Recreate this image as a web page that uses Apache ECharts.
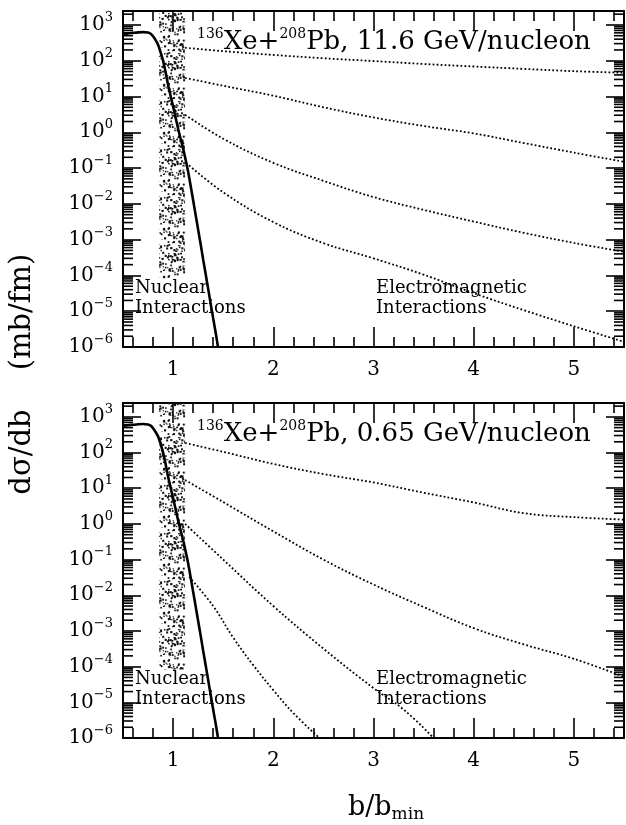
<!DOCTYPE html>
<html>
<head>
<meta charset="utf-8">
<script src="https://cdn.jsdelivr.net/npm/echarts@6/dist/echarts.min.js"></script>
<style>
  html, body { margin: 0; padding: 0; background: #fff; }
  #chart { width: 626px; height: 825px; }
</style>
</head>
<body>
<div id="chart"></div>
<script>
// Impact-parameter distributions dσ/db (mb/fm) versus b/b_min.

// Nuclear (grazing) interactions, same in both panels
const nuclear = [[0.50, 550], [0.55, 580], [0.60, 600], [0.65, 620], [0.70, 630], [0.75, 615],
  [0.78, 560], [0.80, 480], [0.83, 360], [0.85, 280], [0.875, 175], [0.90, 100], [0.925, 48],
  [0.95, 21], [0.975, 10.5], [1.00, 5.2], [1.025, 2.6], [1.05, 1.26], [1.075, 0.66], [1.10, 0.35],
  [1.125, 0.17], [1.15, 0.079], [1.175, 0.032], [1.20, 0.0126], [1.225, 4.9e-3], [1.25, 1.9e-3],
  [1.275, 7.4e-4], [1.30, 2.8e-4], [1.325, 1.1e-4], [1.35, 4.2e-5], [1.375, 1.6e-5],
  [1.40, 6.3e-6], [1.425, 2.5e-6], [1.448, 1e-6]];

// Electromagnetic interactions, 11.6 GeV/nucleon
const em116a = [[1.12, 230], [1.5, 185], [2.0, 145], [2.5, 117], [3.0, 98], [3.5, 81], [4.0, 69], [4.5, 59], [5.0, 51], [5.5, 46]];
const em116b = [[1.12, 33], [1.5, 20], [2.0, 10.5], [2.5, 5.0], [3.0, 2.6], [3.5, 1.5], [4.0, 0.93], [4.5, 0.5], [5.0, 0.27], [5.5, 0.15]];
const em116c = [[1.12, 3.1], [1.5, 0.66], [2.0, 0.14], [2.5, 0.044], [3.0, 0.0155], [3.5, 6.8e-3], [4.0, 3.2e-3], [4.5, 1.55e-3], [5.0, 8.1e-4], [5.5, 4.6e-4]];
const em116d = [[1.13, 0.14], [1.5, 0.021], [2.0, 3.1e-3], [2.5, 8e-4], [3.0, 3e-4], [3.5, 1.05e-4], [4.0, 3.2e-5], [4.5, 1.07e-5], [5.0, 3.8e-6], [5.5, 1.4e-6]];

// Electromagnetic interactions, 0.65 GeV/nucleon
const em065a = [[1.12, 186], [1.5, 105], [2.0, 48], [2.5, 25], [3.0, 14.5], [3.5, 7.5], [4.0, 4.0], [4.5, 2.0], [5.0, 1.55], [5.5, 1.32]];
const em065b = [[1.12, 17], [1.5, 4.1], [2.0, 0.62], [2.5, 0.1], [3.0, 0.020], [3.5, 4.7e-3], [4.0, 1.2e-3], [4.5, 4.2e-4], [5.0, 1.66e-4], [5.5, 5.2e-5]];
const em065c = [[1.12, 1.0], [1.5, 0.1], [2.0, 5e-3], [2.5, 3.2e-4], [3.0, 2.5e-5], [3.3, 6.3e-6], [3.6, 1e-6]];
const em065d = [[1.16, 0.033], [1.4, 5e-3], [1.6, 6.5e-4], [1.8, 1.1e-4], [2.0, 2.2e-5], [2.2, 5e-6], [2.46, 1e-6]];

// Shaded band of b/b_min near the touching-sphere radius
const bandX = [0.86, 1.12];
const bandLow = 8.3e-5;

// Axes
const xMin = 0.5, xMax = 5.5;
const yMin = 1e-6, yMax = 2450;
const xMajor = [1, 2, 3, 4, 5];
const xMinor = [0.6, 0.8, 1.2, 1.4, 1.6, 1.8, 2.2, 2.4, 2.6, 2.8, 3.2, 3.4, 3.6, 3.8, 4.2, 4.4, 4.6, 4.8, 5.2, 5.4];
const decades = [1e-6, 1e-5, 1e-4, 1e-3, 1e-2, 1e-1, 1, 10, 100, 1000];
const mantissas = [2, 3, 4, 5, 6, 7, 8, 9];
const yMinor = decades.flatMap(d => mantissas.map(k => k * d)).filter(v => v < yMax);

const panelEnergies = ['11.6', '0.65'];

const F = 'DejaVu Serif';
const grids = [
  { left: 123, top: 11, width: 501, height: 336 },
  { left: 123, top: 403, width: 501, height: 335 }
];

// stippled fill texture for the band
function stipplePattern() {
  const s = 48;
  const c = document.createElement('canvas');
  c.width = s; c.height = s;
  const g = c.getContext('2d');
  g.fillStyle = '#111';
  let h = 2463534242;
  const next = () => { h ^= h << 13; h >>>= 0; h ^= h >>> 17; h ^= h << 5; h >>>= 0; return h / 4294967296; };
  for (let i = 0; i < 230; i++) {
    const px = next() * s, py = next() * s;
    const d = 1.1 + next() * 1.1;
    g.fillRect(px, py, d, d);
  }
  return c;
}
const pattern = stipplePattern();

const xAxes = [], yAxes = [], series = [], graphics = [];

function supLabel(v) {
  const n = Math.log10(v);
  if (Math.abs(n - Math.round(n)) > 1e-6) return '';
  const e = Math.round(n);
  return '{b|10}{e|' + (e < 0 ? '\u2212' + (-e) : e) + '}';
}

grids.forEach((gr, g) => {
  const tickStyle = { color: '#000', width: 1.6 };
  const xCommon = { gridIndex: g, type: 'value', min: xMin, max: xMax, splitLine: { show: false } };
  xAxes.push(Object.assign({}, xCommon, {
    position: 'bottom',
    axisLine: { show: true, lineStyle: { color: '#000', width: 2 } },
    axisTick: { show: true, inside: true, length: 20, customValues: xMajor, lineStyle: tickStyle },
    axisLabel: { show: true, customValues: xMajor, color: '#000', fontFamily: F, fontSize: 20, margin: 13 }
  }));
  xAxes.push(Object.assign({}, xCommon, {
    position: 'bottom',
    axisLine: { show: false },
    axisTick: { show: true, inside: true, length: 10, customValues: xMinor, lineStyle: tickStyle },
    axisLabel: { show: false }
  }));
  xAxes.push(Object.assign({}, xCommon, {
    position: 'top',
    axisLine: { show: true, lineStyle: { color: '#000', width: 2 } },
    axisTick: { show: true, inside: true, length: 20, customValues: xMajor, lineStyle: tickStyle },
    axisLabel: { show: false }
  }));
  xAxes.push(Object.assign({}, xCommon, {
    position: 'top',
    axisLine: { show: false },
    axisTick: { show: true, inside: true, length: 10, customValues: xMinor, lineStyle: tickStyle },
    axisLabel: { show: false }
  }));

  const yCommon = { gridIndex: g, type: 'log', logBase: 10, min: yMin, max: yMax, splitNumber: 9, splitLine: { show: false } };
  yAxes.push(Object.assign({}, yCommon, {
    position: 'left',
    axisLine: { show: true, lineStyle: { color: '#000', width: 2 } },
    axisTick: { show: true, inside: true, length: 18, lineStyle: tickStyle },
    axisLabel: {
      show: true, margin: 10, formatter: supLabel,
      rich: {
        b: { fontFamily: F, fontSize: 20, lineHeight: 28, color: '#000' },
        e: { fontFamily: F, fontSize: 13, lineHeight: 8, verticalAlign: 'top', color: '#000' }
      }
    }
  }));
  yAxes.push(Object.assign({}, yCommon, {
    position: 'right',
    axisLine: { show: true, lineStyle: { color: '#000', width: 2 } },
    axisTick: { show: true, inside: true, length: 18, lineStyle: tickStyle },
    axisLabel: { show: false }
  }));

  const xi = 4 * g, yi = 2 * g;

  // shaded band
  series.push({
    type: 'custom', xAxisIndex: xi, yAxisIndex: yi, silent: true, z: 1,
    data: [[bandX[0], bandX[1], bandLow, yMax]],
    renderItem: (params, api) => {
      const p0 = api.coord([api.value(0), api.value(3)]);
      const p1 = api.coord([api.value(1), api.value(2)]);
      return {
        type: 'rect',
        shape: { x: p0[0], y: p0[1], width: p1[0] - p0[0], height: p1[1] - p0[1] },
        style: { fill: { image: pattern, repeat: 'repeat' } }
      };
    }
  });

  // minor log ticks on left and right frames
  series.push({
    type: 'custom', xAxisIndex: xi, yAxisIndex: yi, silent: true, z: 3,
    data: yMinor.map(v => [xMin, v]),
    renderItem: (params, api) => {
      const v = api.value(1);
      const l = api.coord([xMin, v]);
      const r = api.coord([xMax, v]);
      const st = { stroke: '#000', lineWidth: 1.6 };
      return {
        type: 'group', children: [
          { type: 'line', shape: { x1: l[0], y1: l[1], x2: l[0] + 10, y2: l[1] }, style: st },
          { type: 'line', shape: { x1: r[0] - 10, y1: r[1], x2: r[0], y2: r[1] }, style: st }
        ]
      };
    }
  });

  series.push({
    type: 'line', xAxisIndex: xi, yAxisIndex: yi, data: nuclear, symbol: 'none', z: 4,
    smooth: 0.2, lineStyle: { color: '#000', width: 2.6 }
  });
  const emSets = g === 0 ? [em116a, em116b, em116c, em116d] : [em065a, em065b, em065c, em065d];
  emSets.forEach(d => series.push({
    type: 'line', xAxisIndex: xi, yAxisIndex: yi, data: d, symbol: 'none', z: 4,
    smooth: 0.4,
    lineStyle: { color: '#000', width: 1.8, type: [1.8, 2.2] }
  }));

  // panel title
  graphics.push({
    type: 'text', x: 197, y: gr.top + 31,
    style: {
      text: '{s|136}{t|Xe+}{s|208}{t|Pb, ' + panelEnergies[g] + ' GeV/nucleon}',
      verticalAlign: 'middle',
      rich: {
        s: { fontFamily: F, fontSize: 14, lineHeight: 8, verticalAlign: 'top', fill: '#000' },
        t: { fontFamily: F, fontSize: 26, lineHeight: 30, fill: '#000' }
      }
    }
  });

  const by = gr.top + gr.height - 49;
  graphics.push({ type: 'text', x: 135, y: by, style: { text: 'Nuclear\nInteractions', fontFamily: F, fontSize: 18, lineHeight: 20, fill: '#000', verticalAlign: 'middle' } });
  graphics.push({ type: 'text', x: 376, y: by, style: { text: 'Electromagnetic\nInteractions', fontFamily: F, fontSize: 18, lineHeight: 20, fill: '#000', verticalAlign: 'middle' } });
});

// axis titles
graphics.push({ type: 'text', x: 22, y: 312, rotation: Math.PI / 2, style: { text: '(mb/fm)', fontFamily: F, fontSize: 29, fill: '#000', align: 'center', verticalAlign: 'middle' } });
graphics.push({ type: 'text', x: 22, y: 452, rotation: Math.PI / 2, style: { text: 'd\u03c3/db', fontFamily: F, fontSize: 29, fill: '#000', align: 'center', verticalAlign: 'middle' } });
graphics.push({
  type: 'text', x: 386, y: 808,
  style: {
    text: '{n|b/b}{s|min}', align: 'center', verticalAlign: 'middle',
    rich: {
      n: { fontFamily: F, fontSize: 27, lineHeight: 30, fill: '#000' },
      s: { fontFamily: F, fontSize: 17, lineHeight: 12, verticalAlign: 'bottom', fill: '#000' }
    }
  }
});

const chart = echarts.init(document.getElementById('chart'), null, { renderer: 'canvas' });
chart.setOption({
  animation: false,
  backgroundColor: '#fff',
  grid: grids.map(gr => Object.assign({ containLabel: false }, gr)),
  xAxis: xAxes,
  yAxis: yAxes,
  series: series,
  graphic: graphics
});
</script>
</body>
</html>
